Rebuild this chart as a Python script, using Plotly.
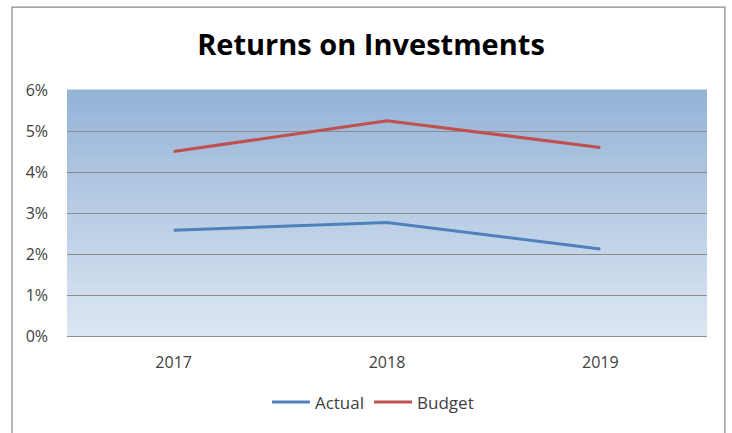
import plotly.graph_objects as go

years = ["2017", "2018", "2019"]
actual = [0.0258, 0.0277, 0.0212]
budget = [0.0450, 0.0525, 0.0460]
y_ticks = [0, 0.01, 0.02, 0.03, 0.04, 0.05, 0.06]
y_tick_labels = ["0%", "1%", "2%", "3%", "4%", "5%", "6%"]

fig = go.Figure()
fig.add_trace(go.Scatter(x=years, y=actual, mode="lines", name="Actual",
                         line=dict(color="#4f81bd", width=3)))
fig.add_trace(go.Scatter(x=years, y=budget, mode="lines", name="Budget",
                         line=dict(color="#c0504d", width=3)))

# gradient plot background
top = (149, 179, 215)
bot = (220, 230, 242)
n = 60
shapes = []
for i in range(n):
    t = i / (n - 1)
    c = tuple(round(bot[k] + (top[k] - bot[k]) * t) for k in range(3))
    shapes.append(dict(type="rect", xref="paper", yref="paper",
                       x0=0, x1=1, y0=i / n, y1=(i + 1) / n + 0.002,
                       fillcolor="rgb(%d,%d,%d)" % c, line=dict(width=0),
                       layer="below"))
# outer chart border
shapes.append(dict(type="rect", xref="paper", yref="paper",
                   x0=-0.0859, x1=1.028, y0=-0.45, y1=1.337,
                   line=dict(color="#8a8a8a", width=1.2), fillcolor="rgba(0,0,0,0)",
                   layer="below"))

fig.update_layout(
    width=732, height=433,
    margin=dict(l=67, r=25, t=90, b=94),
    paper_bgcolor="white",
    plot_bgcolor="rgba(0,0,0,0)",
    shapes=shapes,
    title=dict(text="<b>Returns on Investments</b>", x=0.475, xref="paper",
               xanchor="center", y=1 - 45 / 433, yref="container", yanchor="middle",
               font=dict(family="Open Sans", size=29, color="black")),
    font=dict(family="Open Sans", size=16, color="#404040"),
    showlegend=True,
    legend=dict(orientation="h", x=0.478, xanchor="center", xref="paper",
                y=-0.27, yanchor="middle", font=dict(size=17, color="#404040"),
                itemwidth=38),
)
fig.update_xaxes(type="category", range=[-0.5, 2.5], showgrid=False,
                 showline=True, linecolor="#8c8c8c", linewidth=1,
                 ticks="", ticklabelstandoff=12)
fig.update_yaxes(range=[0, 0.06], tickvals=y_ticks, ticktext=y_tick_labels,
                 showgrid=True, gridcolor="#8c8c8c", gridwidth=1,
                 zeroline=False, showline=False, ticks="", ticklabelstandoff=18)

fig.write_html("out.html")
